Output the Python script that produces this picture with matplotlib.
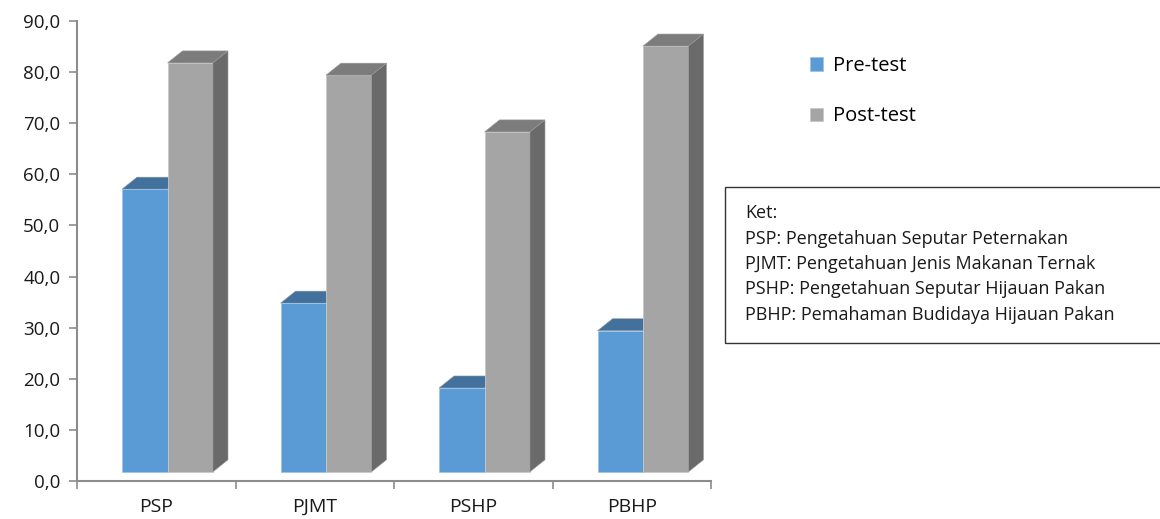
import matplotlib.pyplot as plt
from matplotlib.patches import Polygon
import numpy as np

categories = ["PSP", "PJMT", "PSHP", "PBHP"]
pre_test = [57.1, 34.8, 18.2, 29.4]
post_test = [81.8, 79.4, 68.3, 85.1]
y_ticks = [0, 10, 20, 30, 40, 50, 60, 70, 80, 90]
ket_lines = ["Ket:",
             "PSP: Pengetahuan Seputar Peternakan",
             "PJMT: Pengetahuan Jenis Makanan Ternak",
             "PSHP: Pengetahuan Seputar Hijauan Pakan",
             "PBHP: Pemahaman Budidaya Hijauan Pakan"]

plt.rcParams['font.family'] = ['Open Sans', 'DejaVu Sans']

fig = plt.figure(figsize=(11.6, 5.19), dpi=100)
ax = fig.add_axes([77/1160, 38/519, 634/1160, 460/519])
ax.set_xlim(0, 4)
ax.set_ylim(0, 90)

# 3d look: front faces shifted, depth offset in data units
base = 1.8
width = 0.287
offset = 0.284
dx = 15 / 158.5
dy = 12 / 5.11

pre_front, pre_top = "#5B9BD5", "#41719C"
post_front, post_top, post_side = "#A5A5A5", "#7C7C7C", "#6A6A6A"

x = np.arange(len(categories)) + offset
pre = np.array(pre_test)
post = np.array(post_test)

def top_face(x0, v, color):
    pts = [(x0, v), (x0 + width, v), (x0 + width + dx, v + dy), (x0 + dx, v + dy)]
    ax.add_patch(Polygon(pts, closed=True, facecolor=color, edgecolor="#9a9a9a",
                         linewidth=0.4, clip_on=False, zorder=2))

for i in range(len(categories)):
    top_face(x[i], pre[i], pre_top)

ax.bar(x, pre - base, bottom=base, width=width, align="edge", color=pre_front,
       edgecolor="#9DC3E6", linewidth=0.6, zorder=2, clip_on=False, label="Pre-test")
ax.bar(x + width, post - base, bottom=base, width=width, align="edge", color=post_front,
       edgecolor="#C8C8C8", linewidth=0.6, zorder=3, clip_on=False, label="Post-test")

for i in range(len(categories)):
    x1 = x[i] + width
    pts = [(x1, post[i]), (x1 + width, post[i]), (x1 + width + dx, post[i] + dy), (x1 + dx, post[i] + dy)]
    ax.add_patch(Polygon(pts, closed=True, facecolor=post_top, edgecolor="#9a9a9a",
                         linewidth=0.4, clip_on=False, zorder=3))
    x2 = x1 + width
    side = [(x2, base), (x2 + dx, base + dy), (x2 + dx, post[i] + dy), (x2, post[i])]
    ax.add_patch(Polygon(side, closed=True, facecolor=post_side, edgecolor="#9a9a9a",
                         linewidth=0.4, clip_on=False, zorder=3))

for s in ["top", "right"]:
    ax.spines[s].set_visible(False)
for s in ["left", "bottom"]:
    ax.spines[s].set_color("#8C8C8C")
    ax.spines[s].set_linewidth(1.5)

ax.set_yticks(y_ticks)
ax.set_yticklabels([f"{t:.1f}".replace(".", ",") for t in y_ticks])
ax.tick_params(axis="y", direction="out", length=6, width=1.2, color="#8C8C8C",
               labelsize=13.5, pad=6, labelcolor="#1a1a1a")

ax.set_xticks(np.arange(0, 5))
ax.set_xticklabels([])
ax.set_xticks(np.arange(len(categories)) + 0.5, minor=True)
ax.set_xticklabels(categories, minor=True)
ax.tick_params(axis="x", which="major", direction="out", length=6, width=1.2, color="#8C8C8C")
ax.tick_params(axis="x", which="minor", length=0, labelsize=14, pad=12, labelcolor="#1a1a1a")

# legend
fig.legend(loc="upper left", bbox_to_anchor=(792/1160, 1 - 38/519), frameon=False,
           fontsize=14.5, handlelength=0.65, handleheight=0.65, handletextpad=0.5,
           labelspacing=1.5)

# keterangan box
fig.patches.append(plt.Rectangle((725/1160, 1 - 343/519), 450/1160, 156/519,
                                 transform=fig.transFigure, facecolor="none",
                                 edgecolor="#333333", linewidth=1.0))
for k, line in enumerate(ket_lines):
    fig.text(745/1160, 1 - (213 + 25.5*k)/519, line, fontsize=13, va="center",
             ha="left", color="#1a1a1a")

fig.savefig("out.png", dpi=100)
